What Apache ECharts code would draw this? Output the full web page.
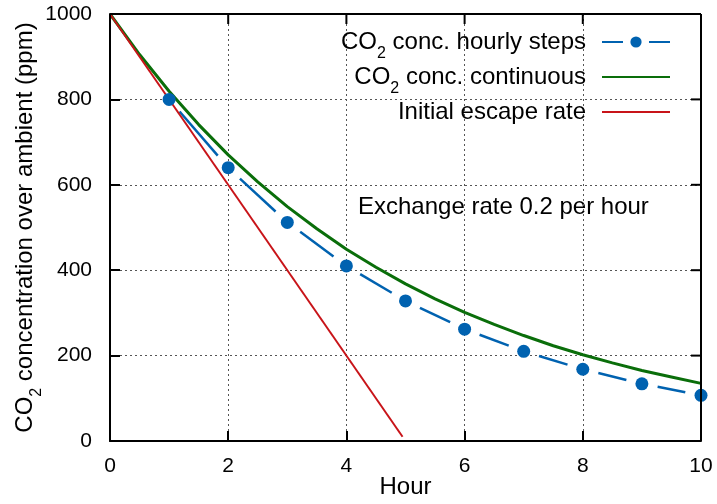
<!DOCTYPE html>
<html>
<head>
<meta charset="utf-8">
<script src="https://cdn.jsdelivr.net/npm/echarts@6/dist/echarts.min.js"></script>
<style>
html,body{margin:0;padding:0;background:#fff;}
#chart{width:717px;height:504px;}
</style>
</head>
<body>
<div id="chart"></div>
<script>
// ---- data ----
const hourlyHours = [1, 2, 3, 4, 5, 6, 7, 8, 9, 10];
const hourlyValues = [800, 640, 512, 410, 328, 262, 210, 168, 134, 107];
const contHours = [0, 0.5, 1, 1.5, 2, 2.5, 3, 3.5, 4, 4.5, 5, 5.5, 6, 6.5, 7, 7.5, 8, 8.5, 9, 9.5, 10];
const contValues = [1000, 905, 819, 741, 670, 607, 549, 497, 449, 407, 368, 333, 301, 273, 247, 223, 202, 183, 165, 150, 135];
const escapeHours = [0, 4.95];
const escapeValues = [1000, 10];
const xTicks = [0, 2, 4, 6, 8, 10];
const yTicks = [0, 200, 400, 600, 800, 1000];
const seriesNames = ['CO2 conc. hourly steps', 'CO2 conc. continuous', 'Initial escape rate'];
const annotation = 'Exchange rate 0.2 per hour';
const xTitle = 'Hour';
const yTitle = 'CO2 concentration over ambient (ppm)';

// ---- style ----
const FONT = 'Liberation Sans, Arial, Helvetica, sans-serif';
const BLUE = '#0062b0', GREEN = '#0a6e0a', RED = '#c81419';
const sub = s => s.replace('CO2', 'CO{s|2}');

const dashData = [];
for (let i = 0; i < hourlyHours.length - 1; i++) {
  dashData.push([hourlyHours[i], hourlyValues[i], hourlyHours[i + 1], hourlyValues[i + 1]]);
}
const xMin = xTicks[0], xMax = xTicks[xTicks.length - 1];
const yMin = yTicks[0], yMax = yTicks[yTicks.length - 1];

function axisBase(ticks) {
  return {
    type: 'value', show: true, min: ticks[0], max: ticks[ticks.length - 1], interval: ticks[1] - ticks[0],
    axisLine: {show: true, onZero: false, lineStyle: {color: '#000', width: 2}},
    axisTick: {show: true, inside: true, length: 10, lineStyle: {color: '#000', width: 2}}
  };
}
const gridLine = {show: true, lineStyle: {color: '#555', width: 1, type: [2, 3]}};

const chart = echarts.init(document.getElementById('chart'), null, {renderer: 'canvas'});
chart.setOption({
  animation: false,
  grid: {left: 110, right: 16, top: 14, bottom: 63, containLabel: false, outerBoundsMode: 'none'},
  xAxis: Object.assign(axisBase(xTicks), {
    position: 'bottom',
    name: xTitle, nameLocation: 'middle', nameGap: 34, nameMoveOverlap: false,
    nameTextStyle: {fontFamily: FONT, fontSize: 24, color: '#000'},
    axisLabel: {fontFamily: FONT, fontSize: 21, color: '#000', margin: 15, formatter: v => String(v)},
    splitLine: gridLine
  }),
  yAxis: Object.assign(axisBase(yTicks), {
    position: 'left',
    name: sub(yTitle), nameLocation: 'middle', nameGap: 65, nameRotate: 90, nameMoveOverlap: false,
    nameTextStyle: {fontFamily: FONT, fontSize: 24, color: '#000', lineHeight: 40,
      rich: {s: {fontFamily: FONT, fontSize: 16, lineHeight: 16, verticalAlign: 'bottom', color: '#000'}}},
    axisLabel: {fontFamily: FONT, fontSize: 21, color: '#000', margin: 18, formatter: v => String(v)},
    splitLine: gridLine
  }),
  legend: {
    orient: 'vertical', align: 'right', right: 46, top: 22, padding: 0,
    itemWidth: 68, itemHeight: 14, itemGap: -5,
    formatter: name => sub(name),
    textStyle: {fontFamily: FONT, fontSize: 24, color: '#000', lineHeight: 40, padding: [0, 11, 0, 0],
      rich: {s: {fontFamily: FONT, fontSize: 16, lineHeight: 16, verticalAlign: 'bottom', color: '#000'}}},
    data: [
      {name: seriesNames[0], lineStyle: {color: BLUE, width: 2, type: [21, 26], opacity: 1}, itemStyle: {color: BLUE}},
      {name: seriesNames[1], itemStyle: {opacity: 0}},
      {name: seriesNames[2], itemStyle: {opacity: 0}}
    ]
  },
  graphic: [{
    type: 'text', left: 358, top: 195,
    style: {text: annotation, font: '24px ' + FONT, fill: '#000'}
  }],
  series: [
    {
      name: 'hourly-dashes', type: 'custom', coordinateSystem: 'cartesian2d',
      encode: {x: [0, 2], y: [1, 3]}, data: dashData, silent: true,
      renderItem: function (params, api) {
        const p0 = api.coord([api.value(0), api.value(1)]);
        const p1 = api.coord([api.value(2), api.value(3)]);
        const dx = p1[0] - p0[0], dy = p1[1] - p0[1];
        const L = Math.hypot(dx, dy), g = 16;
        return {
          type: 'line',
          shape: {x1: p0[0] + dx * g / L, y1: p0[1] + dy * g / L, x2: p1[0] - dx * g / L, y2: p1[1] - dy * g / L},
          style: {stroke: BLUE, lineWidth: 2.5}
        };
      }
    },
    {
      name: seriesNames[0], type: 'line',
      data: hourlyHours.map((h, i) => [h, hourlyValues[i]]),
      symbol: 'circle', symbolSize: 13, showSymbol: true,
      itemStyle: {color: BLUE},
      lineStyle: {color: BLUE, width: 2, opacity: 0}
    },
    {
      name: seriesNames[1], type: 'line',
      data: contHours.map((h, i) => [h, contValues[i]]),
      symbol: 'none', smooth: false,
      itemStyle: {color: GREEN},
      lineStyle: {color: GREEN, width: 3}
    },
    {
      name: seriesNames[2], type: 'line',
      data: escapeHours.map((h, i) => [h, escapeValues[i]]),
      symbol: 'none',
      itemStyle: {color: RED},
      lineStyle: {color: RED, width: 2}
    },
    {
      // plot border with mirrored ticks on the top and right edges
      name: 'frame', type: 'custom', coordinateSystem: 'cartesian2d', silent: true, z: 10, clip: false,
      encode: {x: [0, 2], y: [1, 3]},
      data: [[xMin, yMin, xMax, yMax]],
      renderItem: function (params, api) {
        const tl = api.coord([api.value(0), api.value(3)]);
        const br = api.coord([api.value(2), api.value(1)]);
        const st = {stroke: '#000', lineWidth: 2, fill: null};
        const children = [
          {type: 'line', shape: {x1: tl[0], y1: tl[1], x2: br[0], y2: tl[1]}, style: st},
          {type: 'line', shape: {x1: br[0], y1: tl[1], x2: br[0], y2: br[1]}, style: st}
        ];
        xTicks.forEach(t => {
          const p = api.coord([t, api.value(3)]);
          children.push({type: 'line', shape: {x1: p[0], y1: tl[1], x2: p[0], y2: tl[1] + 10}, style: st});
        });
        yTicks.forEach(t => {
          const p = api.coord([api.value(2), t]);
          children.push({type: 'line', shape: {x1: br[0], y1: p[1], x2: br[0] - 10, y2: p[1]}, style: st});
        });
        return {type: 'group', children: children};
      }
    }
  ]
});
</script>
</body>
</html>
